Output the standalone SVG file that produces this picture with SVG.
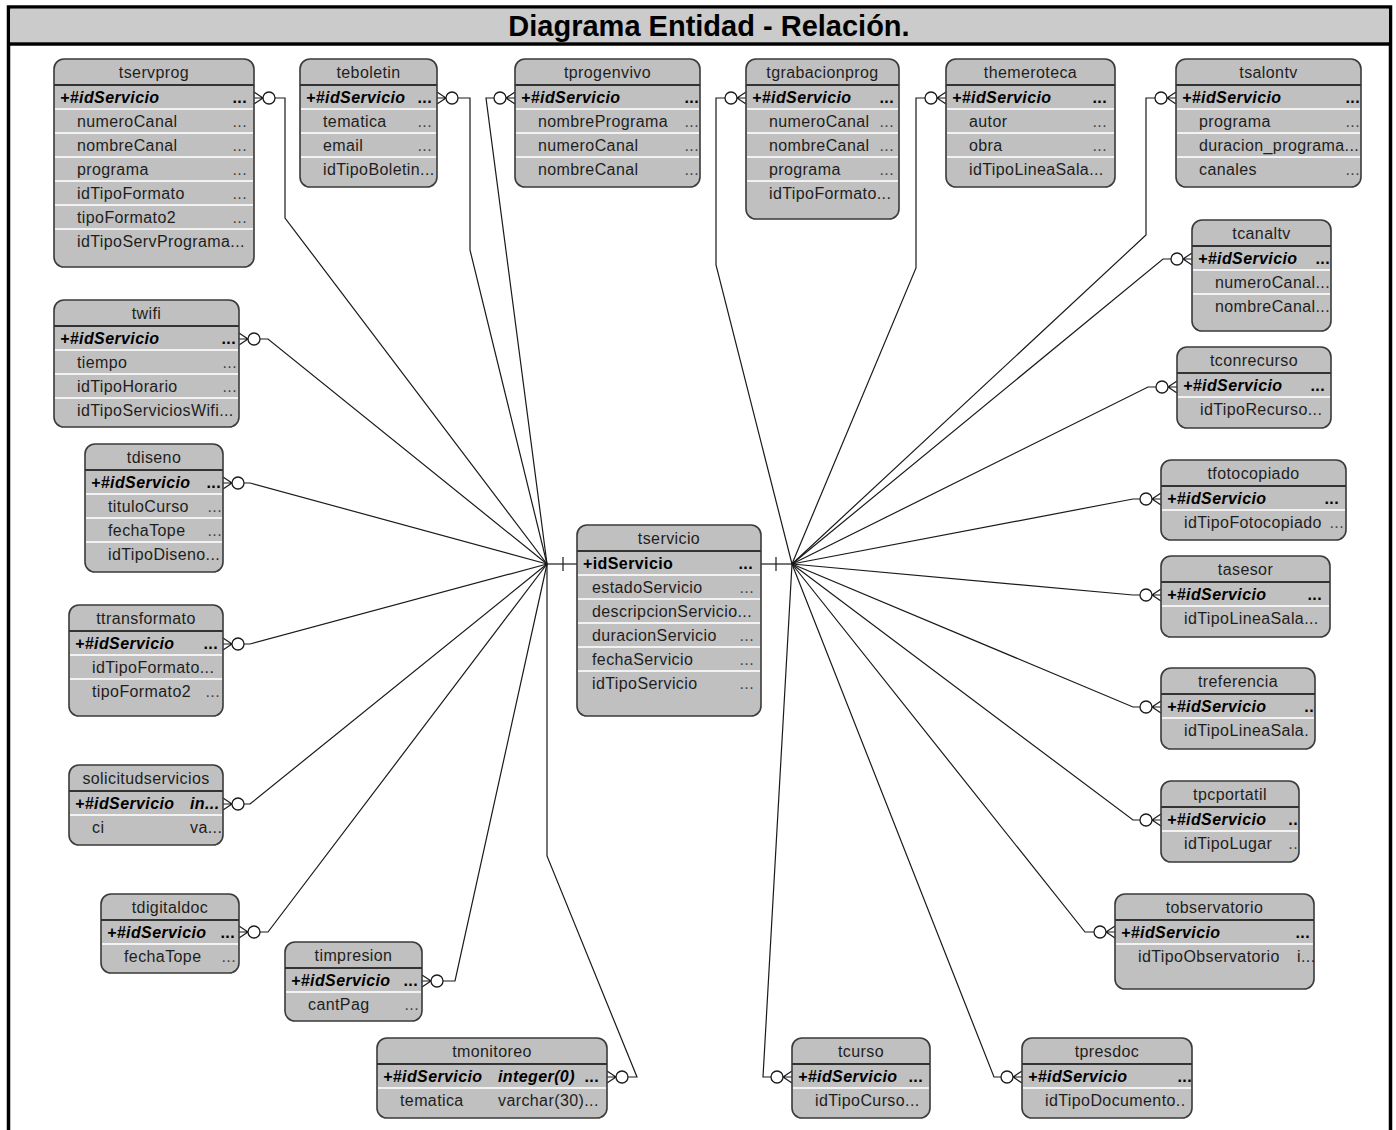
<svg xmlns="http://www.w3.org/2000/svg" xmlns:xlink="http://www.w3.org/1999/xlink" width="1396" height="1130" viewBox="0 0 1396 1130">
<style>
  .frame { fill:#ffffff; stroke:#000; stroke-width:3.5; }
  .titlebar { fill:#cbcbcb; }
  .title { font-family:"Liberation Sans",Arial,sans-serif; font-size:29px; font-weight:bold; fill:#000; }
  .box { fill:#c0c0c0; stroke:#3a3a3a; stroke-width:1.6; }
  .hdr { stroke:#333; stroke-width:2; }
  .sep { stroke:#f2f2f2; stroke-width:2; }
  .t { font-family:"Liberation Sans",Arial,sans-serif; font-size:16px; letter-spacing:0.4px; fill:#1e1e1e; }
  .n { text-anchor:middle; }
  .k { font-weight:bold; font-style:italic; fill:#000; }
  .b { font-weight:bold; fill:#000; }
  .d { fill:#444; text-anchor:end; }
  .kd { font-weight:bold; fill:#000; text-anchor:end; }
  .cn { fill:none; stroke:#1a1a1a; stroke-width:1.2; }
  .cf { fill:none; stroke:#1a1a1a; stroke-width:1.2; }
  .cc { fill:#ffffff; stroke:#1a1a1a; stroke-width:1.3; }
</style>
<defs>
  <!-- zero-or-many end, entity on the left of the line -->
  <g id="cfR"><path class="cf" d="M0,-6 L9,0 L0,6 M0,0 H9"/><circle class="cc" cx="15" cy="0" r="6"/></g>
  <!-- zero-or-many end, entity on the right of the line -->
  <g id="cfL"><path class="cf" d="M0,-6 L-9,0 L0,6 M0,0 H-9"/><circle class="cc" cx="-15" cy="0" r="6"/></g>
</defs>

<!-- frame and title -->
<rect class="frame" x="8.5" y="7" width="1382" height="1140"/>
<rect class="titlebar" x="10.25" y="8.75" width="1378.5" height="33.5"/>
<line x1="8.5" y1="44" x2="1390.5" y2="44" stroke="#000" stroke-width="3.5"/>
<text class="title" x="709" y="36" text-anchor="middle">Diagrama Entidad - Relación.</text>

<!-- connectors -->
<g id="connectors">
  <!-- left hub -->
  <polyline class="cn" points="547,564 577,564"/>
  <line class="cn" x1="563" y1="557" x2="563" y2="571"/>
  <polyline class="cn" points="275,98 285,98 285,218 547,564"/>
  <polyline class="cn" points="458,98 470,98 470,250 547,564"/>
  <polyline class="cn" points="494,98 486,98 547,564"/>
  <polyline class="cn" points="260,339 268,339 547,564"/>
  <polyline class="cn" points="244,483 250,483 547,564"/>
  <polyline class="cn" points="244,644 250,644 547,564"/>
  <polyline class="cn" points="244,804 250,804 547,564"/>
  <polyline class="cn" points="260,932 268,932 547,564"/>
  <polyline class="cn" points="443,981 455,981 547,564"/>
  <polyline class="cn" points="628,1077 637,1077 547,856 547,564"/>
  <!-- right hub -->
  <polyline class="cn" points="761,564 792,564"/>
  <line class="cn" x1="776" y1="557" x2="776" y2="571"/>
  <polyline class="cn" points="725,98 716,98 716,265 792,564"/>
  <polyline class="cn" points="925,98 916,98 916,268 792,564"/>
  <polyline class="cn" points="1155,98 1146,98 1146,235 792,564"/>
  <polyline class="cn" points="1171,259 1163,259 792,564"/>
  <polyline class="cn" points="1156,387 1148,387 792,564"/>
  <polyline class="cn" points="1140,499 1133,499 792,564"/>
  <polyline class="cn" points="1140,595 1133,595 792,564"/>
  <polyline class="cn" points="1140,707 1133,707 792,564"/>
  <polyline class="cn" points="1140,820 1133,820 792,564"/>
  <polyline class="cn" points="1094,932 1085,932 792,564"/>
  <polyline class="cn" points="771,1077 763,1077 792,564"/>
  <polyline class="cn" points="1001,1077 994,1077 792,564"/>
  <!-- crow's feet -->
  <use xlink:href="#cfR" href="#cfR" x="254" y="98"/>
  <use xlink:href="#cfR" href="#cfR" x="437" y="98"/>
  <use xlink:href="#cfL" href="#cfL" x="515" y="98"/>
  <use xlink:href="#cfR" href="#cfR" x="239" y="339"/>
  <use xlink:href="#cfR" href="#cfR" x="223" y="483"/>
  <use xlink:href="#cfR" href="#cfR" x="223" y="644"/>
  <use xlink:href="#cfR" href="#cfR" x="223" y="804"/>
  <use xlink:href="#cfR" href="#cfR" x="239" y="932"/>
  <use xlink:href="#cfR" href="#cfR" x="422" y="981"/>
  <use xlink:href="#cfR" href="#cfR" x="607" y="1077"/>
  <use xlink:href="#cfL" href="#cfL" x="746" y="98"/>
  <use xlink:href="#cfL" href="#cfL" x="946" y="98"/>
  <use xlink:href="#cfL" href="#cfL" x="1176" y="98"/>
  <use xlink:href="#cfL" href="#cfL" x="1192" y="259"/>
  <use xlink:href="#cfL" href="#cfL" x="1177" y="387"/>
  <use xlink:href="#cfL" href="#cfL" x="1161" y="499"/>
  <use xlink:href="#cfL" href="#cfL" x="1161" y="595"/>
  <use xlink:href="#cfL" href="#cfL" x="1161" y="707"/>
  <use xlink:href="#cfL" href="#cfL" x="1161" y="820"/>
  <use xlink:href="#cfL" href="#cfL" x="1115" y="932"/>
  <use xlink:href="#cfL" href="#cfL" x="792" y="1077"/>
  <use xlink:href="#cfL" href="#cfL" x="1022" y="1077"/>
</g>

<!-- entities -->
<g id="tservprog" transform="translate(54,59)">
  <rect class="box" width="200" height="208" rx="10"/>
  <line class="hdr" x1="0" y1="26" x2="200" y2="26"/>
  <path class="sep" d="M1,50H199M1,74H199M1,98H199M1,122H199M1,146H199M1,170H199"/>
  <text class="t n" x="100" y="19">tservprog</text>
  <text class="t k" x="6" y="44">+#idServicio</text><text class="t kd" x="193" y="44">...</text>
  <text class="t" x="23" y="68">numeroCanal</text><text class="t d" x="193" y="68">...</text>
  <text class="t" x="23" y="92">nombreCanal</text><text class="t d" x="193" y="92">...</text>
  <text class="t" x="23" y="116">programa</text><text class="t d" x="193" y="116">...</text>
  <text class="t" x="23" y="140">idTipoFormato</text><text class="t d" x="193" y="140">...</text>
  <text class="t" x="23" y="164">tipoFormato2</text><text class="t d" x="193" y="164">...</text>
  <text class="t" x="23" y="188">idTipoServPrograma...</text>
</g>

<g id="teboletin" transform="translate(300,59)">
  <rect class="box" width="137" height="128" rx="10"/>
  <line class="hdr" x1="0" y1="26" x2="137" y2="26"/>
  <path class="sep" d="M1,50H136M1,74H136M1,98H136"/>
  <text class="t n" x="68.5" y="19">teboletin</text>
  <text class="t k" x="6" y="44">+#idServicio</text><text class="t kd" x="132" y="44">...</text>
  <text class="t" x="23" y="68">tematica</text><text class="t d" x="132" y="68">...</text>
  <text class="t" x="23" y="92">email</text><text class="t d" x="132" y="92">...</text>
  <text class="t" x="23" y="116">idTipoBoletin...</text>
</g>

<g id="tprogenvivo" transform="translate(515,59)">
  <rect class="box" width="185" height="128" rx="10"/>
  <line class="hdr" x1="0" y1="26" x2="185" y2="26"/>
  <path class="sep" d="M1,50H184M1,74H184M1,98H184"/>
  <text class="t n" x="92.5" y="19">tprogenvivo</text>
  <text class="t k" x="6" y="44">+#idServicio</text><text class="t kd" x="184" y="44">...</text>
  <text class="t" x="23" y="68">nombrePrograma</text><text class="t d" x="184" y="68">...</text>
  <text class="t" x="23" y="92">numeroCanal</text><text class="t d" x="184" y="92">...</text>
  <text class="t" x="23" y="116">nombreCanal</text><text class="t d" x="184" y="116">...</text>
</g>

<g id="tgrabacionprog" transform="translate(746,59)">
  <rect class="box" width="153" height="160" rx="10"/>
  <line class="hdr" x1="0" y1="26" x2="153" y2="26"/>
  <path class="sep" d="M1,50H152M1,74H152M1,98H152M1,122H152"/>
  <text class="t n" x="76.5" y="19">tgrabacionprog</text>
  <text class="t k" x="6" y="44">+#idServicio</text><text class="t kd" x="148" y="44">...</text>
  <text class="t" x="23" y="68">numeroCanal</text><text class="t d" x="148" y="68">...</text>
  <text class="t" x="23" y="92">nombreCanal</text><text class="t d" x="148" y="92">...</text>
  <text class="t" x="23" y="116">programa</text><text class="t d" x="148" y="116">...</text>
  <text class="t" x="23" y="140">idTipoFormato...</text>
</g>

<g id="themeroteca" transform="translate(946,59)">
  <rect class="box" width="169" height="128" rx="10"/>
  <line class="hdr" x1="0" y1="26" x2="169" y2="26"/>
  <path class="sep" d="M1,50H168M1,74H168M1,98H168"/>
  <text class="t n" x="84.5" y="19">themeroteca</text>
  <text class="t k" x="6" y="44">+#idServicio</text><text class="t kd" x="161" y="44">...</text>
  <text class="t" x="23" y="68">autor</text><text class="t d" x="161" y="68">...</text>
  <text class="t" x="23" y="92">obra</text><text class="t d" x="161" y="92">...</text>
  <text class="t" x="23" y="116">idTipoLineaSala...</text>
</g>

<g id="tsalontv" transform="translate(1176,59)">
  <rect class="box" width="185" height="128" rx="10"/>
  <line class="hdr" x1="0" y1="26" x2="185" y2="26"/>
  <path class="sep" d="M1,50H184M1,74H184M1,98H184"/>
  <text class="t n" x="92.5" y="19">tsalontv</text>
  <text class="t k" x="6" y="44">+#idServicio</text><text class="t kd" x="184" y="44">...</text>
  <text class="t" x="23" y="68">programa</text><text class="t d" x="184" y="68">...</text>
  <text class="t" x="23" y="92">duracion_programa...</text>
  <text class="t" x="23" y="116">canales</text><text class="t d" x="184" y="116">...</text>
</g>

<g id="tcanaltv" transform="translate(1192,220)">
  <rect class="box" width="139" height="111" rx="10"/>
  <line class="hdr" x1="0" y1="26" x2="139" y2="26"/>
  <path class="sep" d="M1,50H138M1,74H138"/>
  <text class="t n" x="69.5" y="19">tcanaltv</text>
  <text class="t k" x="6" y="44">+#idServicio</text><text class="t kd" x="138" y="44">...</text>
  <text class="t" x="23" y="68">numeroCanal...</text>
  <text class="t" x="23" y="92">nombreCanal...</text>
</g>

<g id="tconrecurso" transform="translate(1177,347)">
  <rect class="box" width="154" height="81" rx="10"/>
  <line class="hdr" x1="0" y1="26" x2="154" y2="26"/>
  <path class="sep" d="M1,50H153"/>
  <text class="t n" x="77" y="19">tconrecurso</text>
  <text class="t k" x="6" y="44">+#idServicio</text><text class="t kd" x="148" y="44">...</text>
  <text class="t" x="23" y="68">idTipoRecurso...</text>
</g>

<g id="tfotocopiado" transform="translate(1161,460)">
  <rect class="box" width="185" height="80" rx="10"/>
  <line class="hdr" x1="0" y1="26" x2="185" y2="26"/>
  <path class="sep" d="M1,50H184"/>
  <text class="t n" x="92.5" y="19">tfotocopiado</text>
  <text class="t k" x="6" y="44">+#idServicio</text><text class="t kd" x="178" y="44">...</text>
  <text class="t" x="23" y="68">idTipoFotocopiado</text><text class="t d" x="183" y="68">...</text>
</g>

<g id="tasesor" transform="translate(1161,556)">
  <rect class="box" width="169" height="81" rx="10"/>
  <line class="hdr" x1="0" y1="26" x2="169" y2="26"/>
  <path class="sep" d="M1,50H168"/>
  <text class="t n" x="84.5" y="19">tasesor</text>
  <text class="t k" x="6" y="44">+#idServicio</text><text class="t kd" x="161" y="44">...</text>
  <text class="t" x="23" y="68">idTipoLineaSala...</text>
</g>

<g id="treferencia" transform="translate(1161,668)">
  <rect class="box" width="154" height="81" rx="10"/>
  <line class="hdr" x1="0" y1="26" x2="154" y2="26"/>
  <path class="sep" d="M1,50H153"/>
  <text class="t n" x="77" y="19">treferencia</text>
  <text class="t k" x="6" y="44">+#idServicio</text><text class="t kd" x="153" y="44">..</text>
  <text class="t" x="23" y="68">idTipoLineaSala.</text>
</g>

<g id="tpcportatil" transform="translate(1161,781)">
  <rect class="box" width="138" height="81" rx="10"/>
  <line class="hdr" x1="0" y1="26" x2="138" y2="26"/>
  <path class="sep" d="M1,50H137"/>
  <text class="t n" x="69" y="19">tpcportatil</text>
  <text class="t k" x="6" y="44">+#idServicio</text><text class="t kd" x="137" y="44">..</text>
  <text class="t" x="23" y="68">idTipoLugar</text><text class="t d" x="137" y="68">..</text>
</g>

<g id="tobservatorio" transform="translate(1115,894)">
  <rect class="box" width="199" height="95" rx="10"/>
  <line class="hdr" x1="0" y1="26" x2="199" y2="26"/>
  <path class="sep" d="M1,50H198"/>
  <text class="t n" x="99.5" y="19">tobservatorio</text>
  <text class="t k" x="6" y="44">+#idServicio</text><text class="t kd" x="195" y="44">...</text>
  <text class="t" x="23" y="68">idTipoObservatorio</text><text class="t" x="182" y="68">i...</text>
</g>

<g id="tcurso" transform="translate(792,1038)">
  <rect class="box" width="138" height="80" rx="10"/>
  <line class="hdr" x1="0" y1="26" x2="138" y2="26"/>
  <path class="sep" d="M1,50H137"/>
  <text class="t n" x="69" y="19">tcurso</text>
  <text class="t k" x="6" y="44">+#idServicio</text><text class="t kd" x="131" y="44">...</text>
  <text class="t" x="23" y="68">idTipoCurso...</text>
</g>

<g id="tpresdoc" transform="translate(1022,1038)">
  <rect class="box" width="170" height="80" rx="10"/>
  <line class="hdr" x1="0" y1="26" x2="170" y2="26"/>
  <path class="sep" d="M1,50H169"/>
  <text class="t n" x="85" y="19">tpresdoc</text>
  <text class="t k" x="6" y="44">+#idServicio</text><text class="t kd" x="170" y="44">...</text>
  <text class="t" x="23" y="68">idTipoDocumento..</text>
</g>

<g id="tmonitoreo" transform="translate(377,1038)">
  <rect class="box" width="230" height="80" rx="10"/>
  <line class="hdr" x1="0" y1="26" x2="230" y2="26"/>
  <path class="sep" d="M1,50H229"/>
  <text class="t n" x="115" y="19">tmonitoreo</text>
  <text class="t k" x="6" y="44">+#idServicio</text><text class="t k" x="121" y="44">integer(0)</text><text class="t kd" x="222" y="44">...</text>
  <text class="t" x="23" y="68">tematica</text><text class="t" x="121" y="68">varchar(30)...</text>
</g>

<g id="timpresion" transform="translate(285,942)">
  <rect class="box" width="137" height="79" rx="10"/>
  <line class="hdr" x1="0" y1="26" x2="137" y2="26"/>
  <path class="sep" d="M1,50H136"/>
  <text class="t n" x="68.5" y="19">timpresion</text>
  <text class="t k" x="6" y="44">+#idServicio</text><text class="t kd" x="133" y="44">...</text>
  <text class="t" x="23" y="68">cantPag</text><text class="t d" x="134" y="68">...</text>
</g>

<g id="tdigitaldoc" transform="translate(101,894)">
  <rect class="box" width="138" height="79" rx="10"/>
  <line class="hdr" x1="0" y1="26" x2="138" y2="26"/>
  <path class="sep" d="M1,50H137"/>
  <text class="t n" x="69" y="19">tdigitaldoc</text>
  <text class="t k" x="6" y="44">+#idServicio</text><text class="t kd" x="134" y="44">...</text>
  <text class="t" x="23" y="68">fechaTope</text><text class="t d" x="135" y="68">...</text>
</g>

<g id="solicitudservicios" transform="translate(69,765)">
  <rect class="box" width="154" height="80" rx="10"/>
  <line class="hdr" x1="0" y1="26" x2="154" y2="26"/>
  <path class="sep" d="M1,50H153"/>
  <text class="t n" x="77" y="19">solicitudservicios</text>
  <text class="t k" x="6" y="44">+#idServicio</text><text class="t k" x="121" y="44">in...</text>
  <text class="t" x="23" y="68">ci</text><text class="t" x="121" y="68">va...</text>
</g>

<g id="ttransformato" transform="translate(69,605)">
  <rect class="box" width="154" height="111" rx="10"/>
  <line class="hdr" x1="0" y1="26" x2="154" y2="26"/>
  <path class="sep" d="M1,50H153M1,74H153"/>
  <text class="t n" x="77" y="19">ttransformato</text>
  <text class="t k" x="6" y="44">+#idServicio</text><text class="t kd" x="149" y="44">...</text>
  <text class="t" x="23" y="68">idTipoFormato...</text>
  <text class="t" x="23" y="92">tipoFormato2</text><text class="t d" x="151" y="92">...</text>
</g>

<g id="tdiseno" transform="translate(85,444)">
  <rect class="box" width="138" height="128" rx="10"/>
  <line class="hdr" x1="0" y1="26" x2="138" y2="26"/>
  <path class="sep" d="M1,50H137M1,74H137M1,98H137"/>
  <text class="t n" x="69" y="19">tdiseno</text>
  <text class="t k" x="6" y="44">+#idServicio</text><text class="t kd" x="136" y="44">...</text>
  <text class="t" x="23" y="68">tituloCurso</text><text class="t d" x="137" y="68">...</text>
  <text class="t" x="23" y="92">fechaTope</text><text class="t d" x="137" y="92">...</text>
  <text class="t" x="23" y="116">idTipoDiseno...</text>
</g>

<g id="twifi" transform="translate(54,300)">
  <rect class="box" width="185" height="127" rx="10"/>
  <line class="hdr" x1="0" y1="26" x2="185" y2="26"/>
  <path class="sep" d="M1,50H184M1,74H184M1,98H184"/>
  <text class="t n" x="92.5" y="19">twifi</text>
  <text class="t k" x="6" y="44">+#idServicio</text><text class="t kd" x="182" y="44">...</text>
  <text class="t" x="23" y="68">tiempo</text><text class="t d" x="183" y="68">...</text>
  <text class="t" x="23" y="92">idTipoHorario</text><text class="t d" x="183" y="92">...</text>
  <text class="t" x="23" y="116">idTipoServiciosWifi...</text>
</g>

<g id="tservicio" transform="translate(577,525)">
  <rect class="box" width="184" height="191" rx="10"/>
  <line class="hdr" x1="0" y1="26" x2="184" y2="26"/>
  <path class="sep" d="M1,50H183M1,74H183M1,98H183M1,122H183M1,146H183"/>
  <text class="t n" x="92" y="19">tservicio</text>
  <text class="t b" x="6" y="44">+idServicio</text><text class="t kd" x="176" y="44">...</text>
  <text class="t" x="15" y="68">estadoServicio</text><text class="t d" x="177" y="68">...</text>
  <text class="t" x="15" y="92">descripcionServicio...</text>
  <text class="t" x="15" y="116">duracionServicio</text><text class="t d" x="177" y="116">...</text>
  <text class="t" x="15" y="140">fechaServicio</text><text class="t d" x="177" y="140">...</text>
  <text class="t" x="15" y="164">idTipoServicio</text><text class="t d" x="177" y="164">...</text>
</g>
</svg>
